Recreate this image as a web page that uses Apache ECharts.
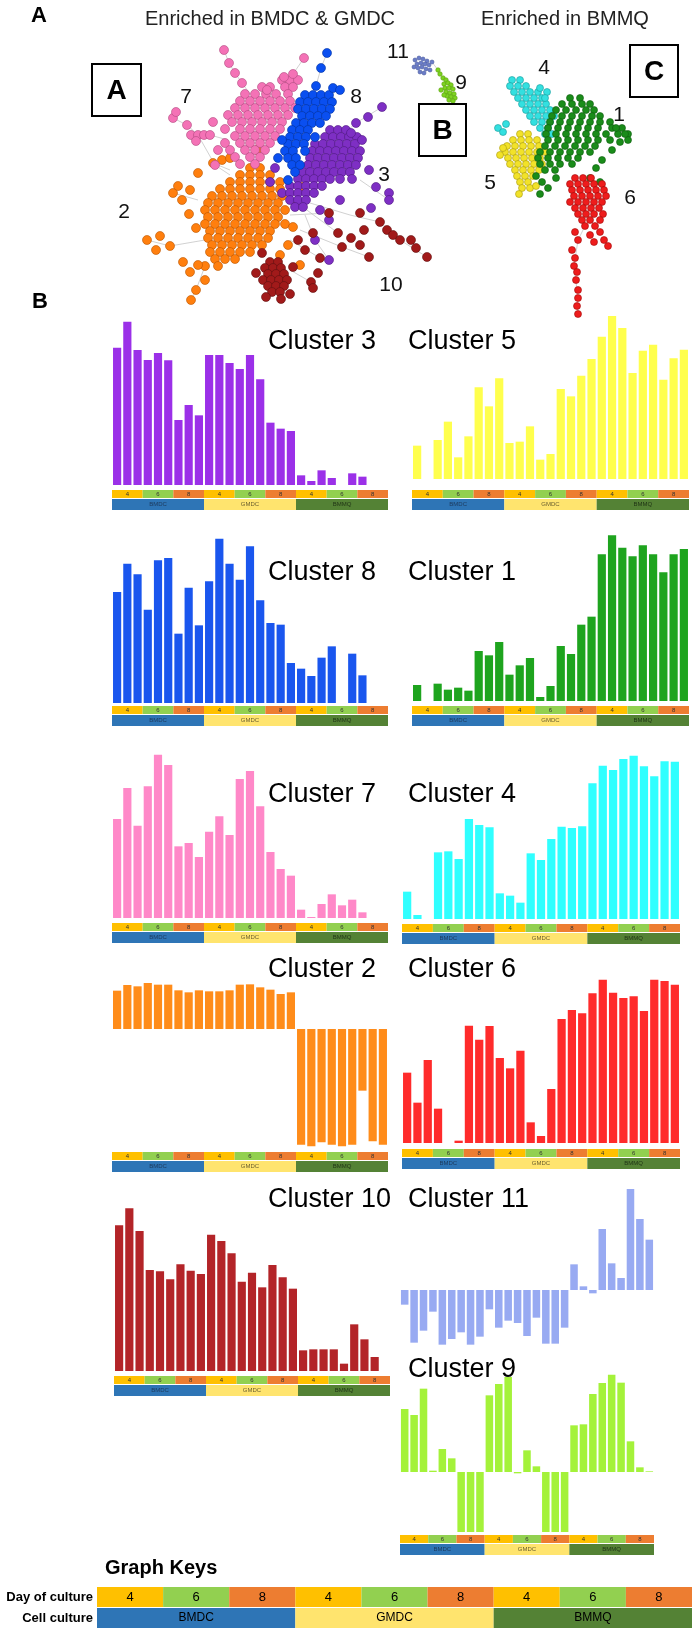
<!DOCTYPE html>
<html><head><meta charset="utf-8">
<script src="https://cdn.jsdelivr.net/npm/echarts@6/dist/echarts.min.js"></script>
<style>html,body{margin:0;padding:0;background:#fff}#c{width:696px;height:1630px}</style>
</head><body><div id="c"></div>
<script>
// ---------- categories ----------
const cultures = ['BMDC','GMDC','BMMQ'];
const days = ['4','6','8'];
const replicates = ['r1','r2','r3'];

// ---------- bar values (27 samples each) ----------
const cluster3  = [412,490,405,375,396,374,195,240,209,390,390,366,348,390,317,187,169,162,29,12,44,21,0,35,25,0,0];
const cluster5  = [100,0,117,172,65,128,275,218,302,108,112,158,58,75,270,248,310,360,427,489,453,318,385,403,298,362,388];
const cluster8  = [333,418,386,280,428,435,208,346,233,365,493,418,370,470,308,240,235,120,103,81,136,170,0,148,83,0,0];
const cluster1  = [48,0,52,34,40,31,150,137,177,79,107,129,12,45,165,141,229,253,440,497,460,434,467,440,386,440,456];
const cluster7  = [297,390,277,395,490,459,215,225,183,259,305,249,417,441,335,198,147,127,25,3,42,71,38,55,17,0,0];
const cluster4  = [82,12,0,200,203,180,300,282,275,77,70,49,197,177,240,277,273,278,407,460,447,480,490,458,428,473,472];
const cluster2  = [115,132,128,138,133,133,116,110,116,113,113,116,133,134,125,118,105,110,-347,-352,-340,-347,-352,-347,-185,-337,-347];
const cluster6  = [211,121,249,103,0,7,352,310,351,255,224,277,62,21,162,372,399,389,449,490,451,435,440,396,490,486,475];
const cluster10 = [437,488,420,303,299,275,320,301,291,409,390,353,268,295,251,318,281,247,62,65,65,65,22,140,95,42,0];
const cluster11 = [-44,-158,-122,-65,-164,-147,-127,-164,-140,-58,-113,-92,-99,-138,-83,-161,-161,-113,77,11,-10,183,80,36,303,213,151];
const cluster9  = [189,171,250,4,69,41,-180,-180,-180,230,264,285,-4,65,17,-180,-180,-180,140,143,234,267,292,268,92,14,2];

// ---------- network nodes (rows: [y, [x...]] + single nodes) ----------
const net2Rows = [[168,[250,260]],[175,[240,250,260,270]],[182,[230,240,250,260,270,280]],[189,[220,230,240,250,260,270,280]],[196,[212,222,232,242,252,262,272,282]],[203,[208,218,228,238,248,258,268,278]],[210,[205,215,225,235,245,255,265,275,285]],[217,[208,218,228,238,248,258,268,278]],[224,[205,215,225,235,245,255,265,275,285]],[231,[210,220,230,240,250,260,270]],[238,[208,218,228,238,248,258,268]],[245,[212,222,232,242,252,262]],[252,[210,220,230,240,250]],[259,[215,225,235]],[266,[205,218]]];
const net2Extra = [[147,240],[156,250],[160,236],[170,246],[173,193],[182,200],[178,186],[190,190],[198,173],[213,163],[222,160],[230,158],[189,214],[196,228],[183,262],[190,272],[198,265],[196,290],[191,300],[205,280],[293,227],[302,187],[296,204],[288,245],[280,255],[300,265],[257,150]];
const net7Rows = [[80,[282,290,298]],[87,[262,270,285,293]],[94,[245,255,266,276,288]],[101,[240,250,260,270,280,290]],[108,[235,245,255,265,275,285,295]],[115,[228,238,248,258,268,278,288]],[122,[232,242,252,262,272,282]],[129,[225,240,250,260,270,280]],[136,[235,245,255,265,275]],[143,[225,240,250,260,270]],[150,[230,245,255,265]],[157,[235,250,260]],[164,[240,255]]];
const net7Extra = [[224,50],[229,63],[235,73],[242,83],[173,118],[176,112],[187,125],[191,135],[198,135],[204,135],[210,135],[196,141],[215,165],[304,58],[284,77],[293,74],[267,90],[218,150],[213,122]];
const net3Rows = [[130,[330,338,346]],[137,[325,333,341,349,357]],[144,[315,323,331,339,347,355]],[151,[312,320,328,336,344,352,360]],[158,[310,318,326,334,342,350,358]],[165,[308,316,324,332,340,348,356]],[172,[302,310,318,326,334,342,350]],[179,[298,306,314,322,330,340,352]],[186,[290,298,306,314,322]],[193,[282,290,298,306,314]],[200,[290,298,306]],[207,[295,303]]];
const net3Extra = [[382,107],[368,117],[356,123],[351,133],[362,140],[369,170],[376,187],[389,193],[389,200],[371,208],[320,210],[329,220],[315,240],[329,260],[340,200],[275,168],[270,182],[300,124]];
const net8Rows = [[95,[305,313,321,329]],[102,[300,308,316,324,332]],[109,[298,306,314,322,330]],[116,[302,310,318,326]],[123,[296,304,312,320]],[130,[292,300,308]],[137,[290,298,306,315]],[144,[288,296,304]],[151,[285,293,305]],[158,[288,296]],[165,[292,300]],[172,[295]],[180,[288]]];
const net8Extra = [[327,53],[321,68],[316,86],[333,88],[340,90],[282,140],[278,158]];
const net10Rows = [[262,[270,278]],[268,[265,273,281]],[274,[268,276,284]],[280,[263,271,279,287]],[286,[268,276,284]],[292,[272,280]]];
const net10Extra = [[262,253],[256,273],[290,294],[281,299],[266,297],[329,213],[313,233],[338,233],[351,238],[364,230],[360,213],[380,222],[387,230],[393,235],[400,240],[411,240],[416,248],[427,257],[369,257],[360,245],[342,247],[320,258],[318,273],[311,282],[313,288],[293,267],[305,250],[298,240]];
const net11Extra = [[415,60],[419,58],[423,59],[427,61],[417,64],[421,63],[425,64],[429,65],[414,67],[418,68],[422,67],[426,69],[430,70],[420,72],[424,73],[432,62]];
const net9Extra = [[438,70],[440,74],[443,78],[446,80],[444,84],[448,83],[451,85],[445,88],[449,88],[453,89],[446,92],[450,93],[454,94],[447,96],[451,97],[455,98],[449,100],[453,101],[444,95],[441,90]];
const net4Rows = [[80,[512,520]],[86,[510,518,526]],[92,[514,522,530,538]],[98,[518,526,534,542]],[104,[522,530,538,546]],[110,[526,534,542,550]],[116,[530,538,546,554]],[122,[534,542,550]],[128,[540,548]],[134,[545,552]]];
const net4Extra = [[498,128],[503,132],[506,124],[540,88],[547,92],[545,98]];
const net1Rows = [[98,[570,580]],[104,[562,572,582,590]],[110,[556,566,576,586,594]],[116,[552,562,572,582,592,600]],[122,[550,560,570,580,590,600,610]],[128,[548,558,568,578,588,598,612,622]],[134,[546,556,566,576,586,596,606,618,628]],[140,[548,558,568,578,588,598,610]],[146,[545,555,565,575,585,595]],[152,[540,550,560,570,580,590]],[158,[538,548,558,568,578]],[164,[540,550,560,572]],[170,[545,555]]];
const net1Extra = [[536,176],[542,182],[548,188],[556,178],[540,194],[590,178],[600,182],[612,150],[620,142],[628,140],[625,134],[616,128],[602,160],[596,168]];
const net5Rows = [[134,[520,528]],[140,[513,521,529,537]],[146,[507,515,523,531,539]],[152,[505,513,521,529,537,545]],[158,[508,516,524,532,540]],[164,[510,518,526,534,542]],[170,[515,523,531,539]],[176,[517,525,533]],[182,[520,528]],[188,[522,530]]];
const net5Extra = [[503,148],[500,155],[536,186],[519,194]];
const net6Rows = [[178,[575,583,591]],[184,[570,578,586,594,602]],[190,[572,580,588,596,604]],[196,[574,582,590,598,606]],[202,[570,578,586,594,602]],[208,[575,583,591,599]],[214,[578,586,594,603]],[220,[582,590,600]],[226,[585,595]]];
const net6Extra = [[600,232],[604,240],[608,246],[590,235],[594,242],[575,232],[578,240],[572,250],[575,258],[574,266],[577,272],[576,280],[578,290],[578,298],[577,306],[578,314]];
const netEdges = [[224,50,229,63],[229,63,235,73],[235,73,242,83],[242,83,250,94],[173,118,187,125],[187,125,198,135],[198,135,215,165],[215,165,230,175],[304,58,293,74],[210,135,228,140],[327,53,321,68],[321,68,316,86],[382,107,356,123],[356,123,340,137],[389,200,360,180],[329,260,315,240],[315,240,305,215],[147,240,170,246],[170,246,205,240],[173,193,198,200],[191,300,196,290],[196,290,205,266],[213,163,230,170],[293,227,285,224],[427,257,400,240],[400,240,380,222],[380,222,350,215],[350,215,300,200],[369,257,342,247],[342,247,300,230],[320,258,290,240],[311,282,290,270],[329,213,290,215],[338,233,300,205],[578,314,577,290],[577,290,574,266],[574,266,578,240],[578,240,585,226],[432,62,438,70]];

// ---------- colours ----------
const dayColors = {'4':'#ffc000','6':'#92d050','8':'#ed7d31'};
const cultureColors = {'BMDC':'#2e75b6','GMDC':'#ffe46e','BMMQ':'#548235'};
const cultureText = {'BMDC':'#1d3a5c','GMDC':'#6b6030','BMMQ':'#1f3315'};

// ---------- build ----------
const samples = [];
cultures.forEach(c=>days.forEach(d=>replicates.forEach(r=>samples.push(c+' d'+d+' '+r))));
const keyDayCats = []; const keyDays = [];
cultures.forEach(c=>days.forEach(d=>{keyDayCats.push(c+' '+d); keyDays.push(d);}));
function expand(rows, extra){ const p=[]; (rows||[]).forEach(r=>r[1].forEach(x=>p.push([x,r[0]]))); return p.concat(extra||[]); }

const option = {animation:false, grid:[], xAxis:[], yAxis:[], series:[], graphic:[]};
function addGrid(g, xa, ya){
  option.grid.push(g); const i = option.grid.length-1;
  option.xAxis.push(Object.assign({gridIndex:i, show:false}, xa));
  option.yAxis.push(Object.assign({gridIndex:i, show:false}, ya));
  return i;
}
const FONT = '"Liberation Sans", Arial, sans-serif';
function txt(x,y,t,size,opts){
  opts = opts||{};
  option.graphic.push({type:'text', x:x, y:y, z:100, style:{text:t, font:(opts.bold?'bold ':'')+size+'px '+FONT, fill:opts.fill||'#000', textAlign:opts.align||'left', textVerticalAlign:'middle'}});
}
function box(x,y,w,h,letter){
  option.graphic.push({type:'rect', z:99, shape:{x:x,y:y,width:w,height:h}, style:{fill:'#fff', stroke:'#000', lineWidth:2}});
  txt(x+w/2, y+h/2+1, letter, 28, {bold:true, align:'center'});
}

// network
const ng = addGrid({left:0, top:0, width:696, height:330}, {type:'value', min:0, max:696}, {type:'value', min:0, max:330, inverse:true});
option.series.push({type:'lines', coordinateSystem:'cartesian2d', xAxisIndex:ng, yAxisIndex:ng, silent:true, z:1,
  data: netEdges.map(e=>({coords:[[e[0],e[1]],[e[2],e[3]]]})), lineStyle:{color:'#bdbdbd', width:0.7, opacity:1}});
const netSets = [
  [net2Rows, net2Extra, '#ff7f0e', '#b85400', 9],
  [net7Rows, net7Extra, '#f472b6', '#b04a80', 9],
  [net3Rows, net3Extra, '#7e2fc4', '#4e1880', 9],
  [net8Rows, net8Extra, '#0a4ff0', '#0030a0', 9],
  [net10Rows, net10Extra, '#a11a1a', '#601010', 9],
  [null, net11Extra, '#6a7cc8', '#4a5aa0', 4],
  [null, net9Extra, '#7ed321', '#5aa010', 4.5],
  [net4Rows, net4Extra, '#33e0e0', '#1a9a9a', 7],
  [net5Rows, net5Extra, '#f2e229', '#a89a10', 7],
  [net1Rows, net1Extra, '#1a8c1a', '#0e5a0e', 7],
  [net6Rows, net6Extra, '#ee1c1c', '#a00a0a', 7]
];
netSets.forEach(s=>{
  option.series.push({type:'scatter', xAxisIndex:ng, yAxisIndex:ng, silent:true, z:2, data:expand(s[0], s[1]),
    symbolSize:s[4], itemStyle:{color:s[2], borderColor:s[3], borderWidth:0.6, opacity:1}});
});
txt(39,16,'A',22,{bold:true, align:'center'});
txt(270,19,'Enriched in BMDC & GMDC',20,{align:'center', fill:'#222'});
txt(565,19,'Enriched in BMMQ',20,{align:'center', fill:'#222'});
box(92,64,49,52,'A'); box(419,104,47,52,'B'); box(630,45,48,52,'C');
[['7',186,97],['8',356,97],['3',384,175],['2',124,212],['10',391,285],['11',398,52],['9',461,83],['4',544,68],['1',619,115],['5',490,183],['6',630,198]]
  .forEach(l=>txt(l[1],l[2],l[0],21,{align:'center', fill:'#111'}));
txt(40,302,'B',22,{bold:true, align:'center'});

// key strip
function addKey(left, top, width, h1, h2, gap, f1, f2, big){
  const gi = addGrid({left:left, top:top, width:width, height:h1}, {type:'category', data:keyDayCats}, {type:'value', min:0, max:1});
  option.series.push({type:'bar', xAxisIndex:gi, yAxisIndex:gi, silent:true, barCategoryGap:'0%',
    data:keyDays.map(d=>({value:1, itemStyle:{color:dayColors[d]}})),
    label:{show:true, position:'inside', formatter:p=>keyDays[p.dataIndex], fontSize:f1, fontFamily:FONT, color:big?'#000':'#333'}});
  const gj = addGrid({left:left, top:top+h1+gap, width:width, height:h2}, {type:'category', data:cultures}, {type:'value', min:0, max:1});
  option.series.push({type:'bar', xAxisIndex:gj, yAxisIndex:gj, silent:true, barCategoryGap:'0%',
    data:cultures.map(c=>({value:1, itemStyle:{color:cultureColors[c]}, label:{color:big?'#000':cultureText[c]}})),
    label:{show:true, position:'inside', formatter:p=>p.name, fontSize:f2, fontFamily:FONT}});
}

// bar charts
const charts = [
  {t:'Cluster 3',  d:cluster3,  c:'#9b30e8', left:112, w:276, zero:485,  min:0,    max:490, key:490,  tx:268, ty:342},
  {t:'Cluster 5',  d:cluster5,  c:'#ffff4d', left:412, w:277, zero:479,  min:0,    max:489, key:490,  tx:408, ty:342},
  {t:'Cluster 8',  d:cluster8,  c:'#1a56ee', left:112, w:276, zero:703,  min:0,    max:493, key:706,  tx:268, ty:573},
  {t:'Cluster 1',  d:cluster1,  c:'#1ea41e', left:412, w:277, zero:701,  min:0,    max:497, key:706,  tx:408, ty:573},
  {t:'Cluster 7',  d:cluster7,  c:'#ff88c8', left:112, w:276, zero:918,  min:0,    max:490, key:923,  tx:268, ty:795},
  {t:'Cluster 4',  d:cluster4,  c:'#30ffff', left:402, w:278, zero:919,  min:0,    max:490, key:924,  tx:408, ty:795},
  {t:'Cluster 2',  d:cluster2,  c:'#ff8c1a', left:112, w:276, zero:1029, min:-355, max:140, key:1152, tx:268, ty:970},
  {t:'Cluster 6',  d:cluster6,  c:'#ff2b2b', left:402, w:278, zero:1143, min:0,    max:490, key:1149, tx:408, ty:970},
  {t:'Cluster 10', d:cluster10, c:'#b32428', left:114, w:276, zero:1371, min:0,    max:490, key:1376, tx:268, ty:1200},
  {t:'Cluster 11', d:cluster11, c:'#98aaf2', left:400, w:254, zero:1290, min:-165, max:305, key:null, tx:408, ty:1200},
  {t:'Cluster 9',  d:cluster9,  c:'#a4f23a', left:400, w:254, zero:1472, min:-180, max:292, key:1535, tx:408, ty:1370}
];
charts.forEach(ch=>{
  const gi = addGrid({left:ch.left, top:ch.zero-ch.max/3, width:ch.w, height:(ch.max-ch.min)/3},
    {type:'category', data:samples}, {type:'value', min:ch.min, max:ch.max});
  option.series.push({type:'bar', xAxisIndex:gi, yAxisIndex:gi, silent:true, data:ch.d, barCategoryGap:'20%',
    itemStyle:{color:ch.c}});
  txt(ch.tx, ch.ty, ch.t, 27);
  if (ch.key !== null) addKey(ch.left, ch.key, ch.w, 8, 11, 1, 6, 6, false);
});

// graph keys
txt(105,1568,'Graph Keys',20,{bold:true});
addKey(97, 1587, 595, 20, 20, 1, 13, 12, true);
txt(93,1597,'Day of culture',13,{bold:true, align:'right'});
txt(93,1618,'Cell culture',13,{bold:true, align:'right'});

echarts.init(document.getElementById('c'), null, {renderer:'canvas'}).setOption(option);
</script></body></html>
